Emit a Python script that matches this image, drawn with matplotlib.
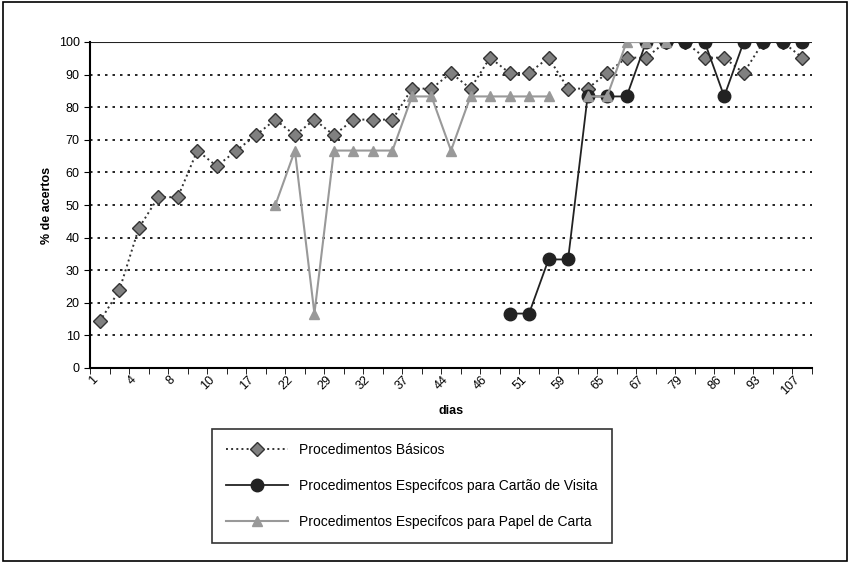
import matplotlib.pyplot as plt
import numpy as np

plt.rcParams['font.family'] = ['Liberation Sans', 'DejaVu Sans']

tick_labels = ["1", "4", "8", "10", "17", "22", "29", "32", "37", "44",
               "46", "51", "59", "65", "67", "79", "86", "93", "107"]
n = 37
nan = np.nan

basicos = [14.3, 23.8, 42.9, 52.4, 52.4, 66.7, 61.9, 66.7, 71.4, 76.2,
           71.4, 76.2, 71.4, 76.2, 76.2, 76.2, 85.7, 85.7, 90.5, 85.7,
           95.2, 90.5, 90.5, 95.2, 85.7, 85.7, 90.5, 95.2, 95.2, 100,
           100, 95.2, 95.2, 90.5, 100, 100, 95.2]
cartao = [nan] * 21 + [16.7, 16.7, 33.3, 33.3, 83.3, 83.3, 83.3, 100,
                       100, 100, 100, 83.3, 100, 100, 100, 100]
papel = [nan] * 9 + [50, 66.7, 16.7, 66.7, 66.7, 66.7, 66.7, 83.3, 83.3,
                     66.7, 83.3, 83.3, 83.3, 83.3, 83.3, nan, 83.3, 83.3,
                     100, 100, 100] + [nan] * 7

x = np.arange(n)
fig = plt.figure(figsize=(8.5, 5.63), dpi=100)
ax = fig.add_axes([90/850, 1-368/563, 722/850, 326/563])

ax.plot(x, basicos, ls=':', color='#333333', lw=1.4, marker='D', ms=7,
        mfc='#808080', mec='#333333', label='Procedimentos Básicos', zorder=3)
ax.plot(x, cartao, '-', color='#222222', lw=1.3, marker='o', ms=9,
        mfc='#222222', mec='#222222',
        label='Procedimentos Especifcos para Cartão de Visita', zorder=4)
ax.plot(x, papel, '-', color='#999999', lw=1.5, marker='^', ms=7,
        mfc='#999999', mec='#999999',
        label='Procedimentos Especifcos para Papel de Carta', zorder=5)

ax.set_xlim(-0.5, n - 0.5)
ax.set_ylim(0, 100)
ax.set_yticks(range(0, 101, 10))
ax.set_xticks(np.arange(-0.5, n, 1), minor=True)
ax.set_xticks(x[::2])
ax.set_xticklabels(tick_labels, rotation=45, ha='right', fontsize=9)
ax.tick_params(axis='x', which='major', length=0, pad=4)
ax.tick_params(axis='x', which='minor', length=4)
ax.tick_params(axis='y', labelsize=9, length=4)
for y in range(10, 101, 10):
    ax.axhline(y, color='black', ls=(0, (1.5, 3)), lw=1.2, zorder=1)
ax.axhline(100, color='#222222', lw=1.5, zorder=1)
for s in ['top', 'right']:
    ax.spines[s].set_visible(False)
ax.spines['left'].set_linewidth(1.5)
ax.spines['bottom'].set_linewidth(1.5)
ax.set_ylabel('% de acertos', fontsize=9, fontweight='bold')
ax.set_xlabel('dias', fontsize=9, fontweight='bold', labelpad=6)

leg = fig.legend(loc='center', bbox_to_anchor=(412/850, 1-486/563),
                 fontsize=10, fancybox=False, edgecolor='black',
                 borderpad=1.0, labelspacing=1.6, handlelength=4.5)
leg.get_frame().set_linewidth(1.2)

fig.patches.append(plt.Rectangle((0.003, 0.004), 0.994, 0.992, fill=False,
                                 ec='black', lw=1.2, transform=fig.transFigure))
fig.savefig('out.png', dpi=100)
